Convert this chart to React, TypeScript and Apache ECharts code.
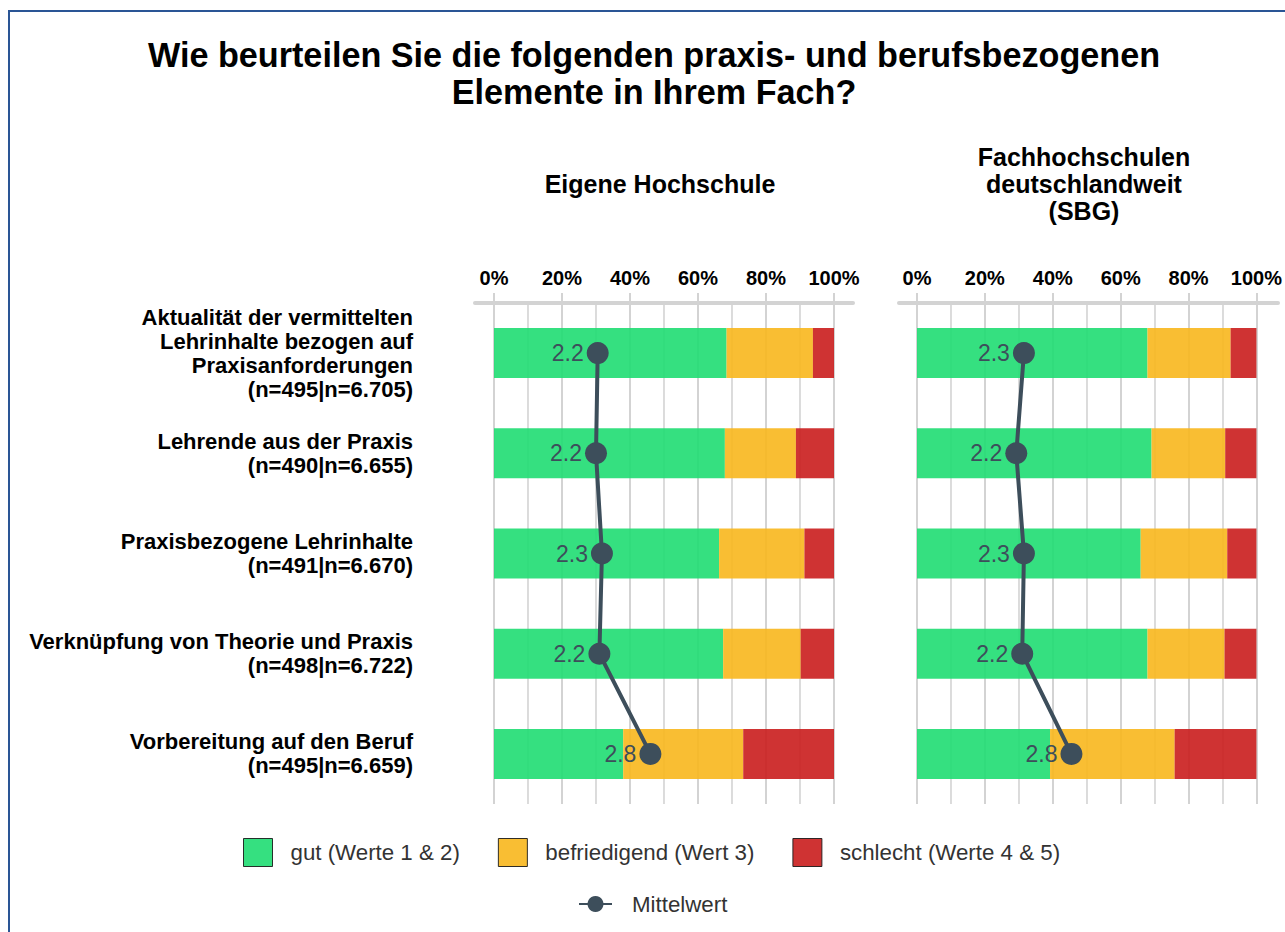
import React, { useEffect, useRef } from "react";
import * as echarts from "echarts";

const categories = [
  "Aktualität der vermittelten\nLehrinhalte bezogen auf\nPraxisanforderungen\n(n=495|n=6.705)",
  "Lehrende aus der Praxis\n(n=490|n=6.655)",
  "Praxisbezogene Lehrinhalte\n(n=491|n=6.670)",
  "Verknüpfung von Theorie und Praxis\n(n=498|n=6.722)",
  "Vorbereitung auf den Beruf\n(n=495|n=6.659)",
];

const panelTitles = ["Eigene Hochschule", "Fachhochschulen\ndeutschlandweit\n(SBG)"];
const seriesNames = ["gut (Werte 1 & 2)", "befriedigend (Wert 3)", "schlecht (Werte 4 & 5)"];
const meanName = "Mittelwert";

// Eigene Hochschule
const goodOwn = [68.4, 67.9, 66.2, 67.4, 38.0];
const midOwn = [25.4, 20.9, 25.1, 22.8, 35.3];
const badOwn = [6.2, 11.2, 8.7, 9.8, 26.7];
const meanOwn = [2.22, 2.2, 2.27, 2.24, 2.84];

// Fachhochschulen deutschlandweit
const goodAll = [67.9, 69.1, 65.9, 67.9, 39.2];
const midAll = [24.5, 21.7, 25.5, 22.7, 36.7];
const badAll = [7.6, 9.2, 8.6, 9.4, 24.1];
const meanAll = [2.26, 2.17, 2.26, 2.24, 2.82];

const tickLabels = [0, 20, 40, 60, 80, 100];

const colors = ["#1fdd72", "#f8b71d", "#ca1d1d"];
const meanColor = "#3d4e5b";
const gridColor = "#d3d3d3";
const FONT = '"Liberation Sans", Arial, sans-serif';

export default function App() {
  const ref = useRef<HTMLDivElement>(null);

  useEffect(() => {
    if (!ref.current) return;
    const chart = echarts.init(ref.current, undefined, { renderer: "svg" });

    const panels = [
      { good: goodOwn, mid: midOwn, bad: badOwn, mean: meanOwn },
      { good: goodAll, mid: midAll, bad: badAll, mean: meanAll },
    ];

    const mainX = (gi: number) => ({
      gridIndex: gi,
      type: "value",
      min: 0,
      max: 100,
      interval: 20,
      position: "top",
      axisLine: { show: false, onZero: false },
      axisTick: { show: true, length: 10, lineStyle: { color: gridColor, width: 2 } },
      axisLabel: {
        formatter: (v: number) => (tickLabels.includes(v) ? v + "%" : ""),
        fontSize: 20,
        fontWeight: "bold",
        color: "#000",
        margin: 15,
        fontFamily: FONT,
      },
      splitLine: { show: true, lineStyle: { color: gridColor, width: 2 } },
      minorTick: { show: false, splitNumber: 2 },
      minorSplitLine: { show: true, lineStyle: { color: gridColor, width: 1.6 } },
    });

    const lineX = (gi: number) => ({
      gridIndex: gi,
      type: "value",
      min: 0,
      max: 1,
      position: "top",
      axisLine: { show: true, onZero: false, lineStyle: { color: "#d3d3d3", width: 4 } },
      axisTick: { show: false },
      axisLabel: { show: false },
      splitLine: { show: false },
    });

    const series: any[] = [];
    panels.forEach((p, pi) => {
      [p.good, p.mid, p.bad].forEach((vals, si) => {
        series.push({
          type: "bar",
          name: seriesNames[si],
          xAxisIndex: pi,
          yAxisIndex: pi,
          stack: "panel" + pi,
          barWidth: 50,
          data: vals,
          itemStyle: { color: colors[si], opacity: 0.9 },
          z: 2,
        });
      });
      series.push({
        type: "line",
        name: meanName,
        xAxisIndex: pi,
        yAxisIndex: pi,
        data: p.mean.map((m, i) => [(m - 1) * 25, i]),
        symbol: "circle",
        symbolSize: 22,
        lineStyle: { color: meanColor, width: 4 },
        itemStyle: { color: meanColor },
        label: {
          show: true,
          position: "left",
          distance: 3,
          formatter: (q: any) => p.mean[q.dataIndex].toFixed(1),
          fontSize: 23,
          color: meanColor,
          fontFamily: FONT,
        },
        z: 5,
      });
    });

    chart.setOption({
      animation: false,
      textStyle: { fontFamily: FONT },
      title: [
        {
          text: "Wie beurteilen Sie die folgenden praxis- und berufsbezogenen\nElemente in Ihrem Fach?",
          left: 649,
          top: 31,
          textAlign: "center",
          textStyle: { fontSize: 34.2, fontWeight: "bold", color: "#000", lineHeight: 37, fontFamily: FONT },
        },
      ],
      graphic: [
        {
          type: "text",
          x: 660,
          y: 184,
          style: {
            text: panelTitles[0],
            font: 'bold 25px "Liberation Sans", Arial, sans-serif',
            fill: "#000",
            textAlign: "center",
            textVerticalAlign: "middle",
            lineHeight: 27,
          },
        },
        {
          type: "text",
          x: 1084,
          y: 184,
          style: {
            text: panelTitles[1],
            font: 'bold 25px "Liberation Sans", Arial, sans-serif',
            fill: "#000",
            textAlign: "center",
            textVerticalAlign: "middle",
            lineHeight: 27,
          },
        },
      ],
      legend: [
        {
          data: seriesNames,
          left: 238,
          top: 833,
          itemWidth: 29,
          itemHeight: 28,
          itemGap: 38,
          icon: "rect",
          selectedMode: false,
          itemStyle: { borderColor: "#1a1a1a", borderWidth: 1 },
          textStyle: { fontSize: 22.3, color: "#333", padding: [0, 0, 0, 13], fontFamily: FONT },
        },
        {
          data: [meanName],
          left: 573,
          top: 888,
          itemWidth: 33,
          itemHeight: 20,
          selectedMode: false,
          textStyle: { fontSize: 22.3, color: "#333", padding: [0, 0, 0, 15], fontFamily: FONT },
        },
      ],
      grid: [
        { left: 494, top: 303, width: 340, height: 501 },
        { left: 917, top: 303, width: 341, height: 501 },
        { left: 475, top: 303, width: 378, height: 501 },
        { left: 899, top: 303, width: 379, height: 501 },
      ],
      xAxis: [mainX(0), mainX(1), lineX(2), lineX(3)],
      yAxis: [
        {
          gridIndex: 0,
          type: "category",
          data: categories,
          inverse: true,
          axisLine: { show: false },
          axisTick: { show: false },
          axisLabel: {
            fontSize: 22,
            fontWeight: "bold",
            color: "#000",
            lineHeight: 24,
            margin: 81,
            align: "right",
            fontFamily: FONT,
          },
        },
        {
          gridIndex: 1,
          type: "category",
          data: categories,
          inverse: true,
          axisLine: { show: false },
          axisTick: { show: false },
          axisLabel: { show: false },
        },
        { gridIndex: 2, type: "value", min: 0, max: 1, show: false },
        { gridIndex: 3, type: "value", min: 0, max: 1, show: false },
      ],
      series,
    });

    return () => chart.dispose();
  }, []);

  return (
    <div
      style={{
        position: "fixed",
        left: 0,
        top: 0,
        width: 1285,
        height: 932,
        overflow: "hidden",
        background: "#fff",
      }}
    >
      <div
        style={{
          position: "absolute",
          left: 8,
          top: 10,
          width: 1320,
          height: 960,
          border: "2px solid #2a5595",
        }}
      />
      <div ref={ref} style={{ position: "absolute", left: 0, top: 0, width: 1285, height: 932 }} />
    </div>
  );
}
